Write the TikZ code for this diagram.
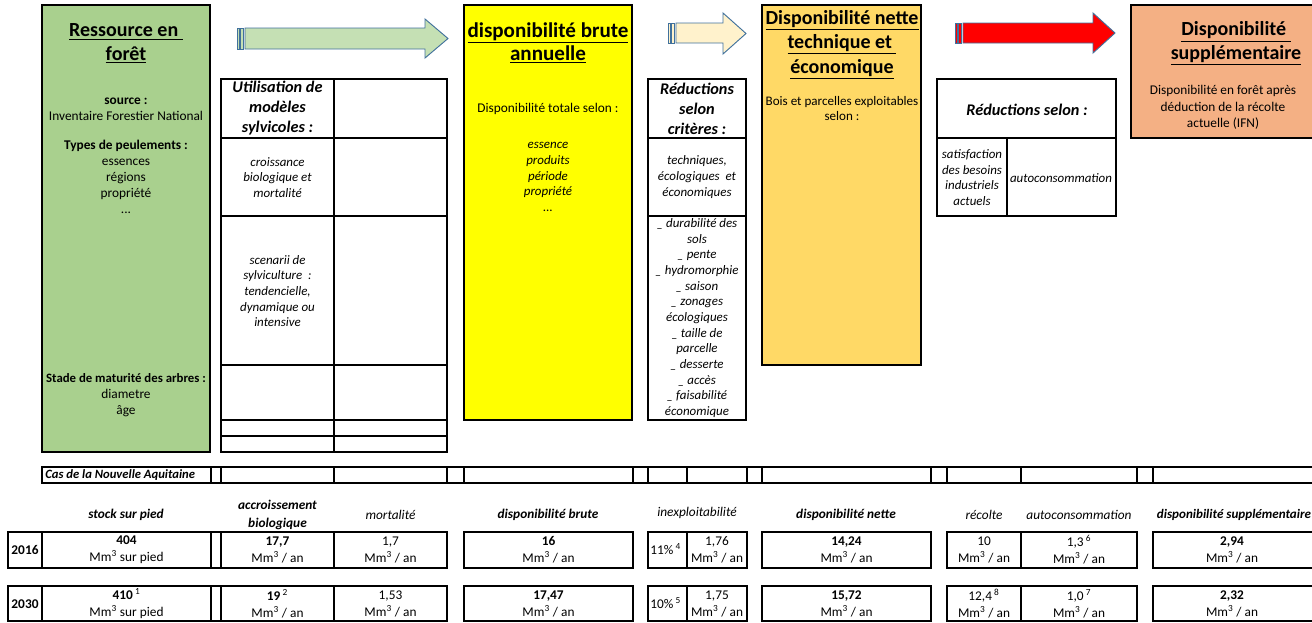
\documentclass[tikz,border=0pt]{standalone}
\usepackage{fontspec}
\setmainfont{Carlito}
\definecolor{vert}{HTML}{A9D08E}
\definecolor{jaune}{HTML}{FFFF00}
\definecolor{or}{HTML}{FFD966}
\definecolor{saumon}{HTML}{F4B084}
\definecolor{bordfleche}{HTML}{41719C}
\definecolor{fleche1}{HTML}{C5E0B4}
\definecolor{fleche2}{HTML}{FFF2CC}
\definecolor{fleche3}{HTML}{FF0000}
\newcommand{\mmc}{Mm\textsuperscript{3}}
\tikzset{
	cadre/.style = {draw, line width = 2.2pt},
	cellule/.style = {draw, line width = 0.8pt},
	fleche/.style = {draw = bordfleche, line width = 0.7pt, line join = miter},
	raie/.style = {draw = bordfleche, line width = 0.4pt},
	texte/.style = {font = \fontsize{10}{12}\selectfont, align = center, inner sep = 0pt},
	italique/.style = {font = \fontsize{9.7}{11.75}\selectfont\itshape, align = center, inner sep = 0pt},
	titre/.style = {font = \fontsize{15}{17.5}\selectfont\bfseries, align = center, inner sep = 0pt},
	entete/.style = {font = \fontsize{12.2}{15}\selectfont\bfseries\itshape, align = center, inner sep = 0pt},
	valeur/.style = {font = \fontsize{10}{12.75}\selectfont, align = center, inner sep = 0pt},
	colonne/.style = {font = \fontsize{10}{10.5}\selectfont\itshape, align = center, inner sep = 0pt}
}
\begin{document}
\begin{tikzpicture} [x = 0.75pt, y = -0.75pt]
	\useasboundingbox (0,0) rectangle (1312,622);
	\clip (0,0) rectangle (1312,622);
	% grands cadres
	\draw [cadre, fill = vert] (42,5) rectangle (210,452);
	\draw [cadre, fill = jaune] (464,5) rectangle (632,420);
	\draw [cadre, fill = or] (762,5) rectangle (921,365);
	\draw [cadre, fill = saumon] (1131,5) rectangle (1330,138);
	% fleches
	\draw [raie, fill = fleche1] (237,28) rectangle (239.5,49);
	\draw [raie, fill = fleche1] (240.5,28) rectangle (243.5,49);
	\draw [fleche, fill = fleche1] (245,28) -- (425,28) -- (425,19) -- (448,38.5) -- (425,58) -- (425,49) -- (245,49) -- cycle;
	\draw [raie, fill = fleche2] (668,23) rectangle (670.5,43);
	\draw [raie, fill = fleche2] (671.5,23) rectangle (674.5,43);
	\draw [fleche, fill = fleche2] (676,23) -- (723,23) -- (723,13) -- (746,33.5) -- (723,54) -- (723,43) -- (676,43) -- cycle;
	\draw [raie, fill = fleche3] (955,23) rectangle (957.5,43);
	\draw [raie, fill = fleche3] (958.5,23) rectangle (961.5,43);
	\draw [fleche, fill = fleche3] (963,23) -- (1093,23) -- (1093,13) -- (1115,33) -- (1093,53) -- (1093,43) -- (963,43) -- cycle;
	% tableaux du haut
	\draw [cellule] (221,79) rectangle (447,452);
	\foreach \y in {138,216,365,420,436}
		\draw [cellule] (221,\y) -- (447,\y);
	\draw [cellule] (334,79) -- (334,452);
	\draw [cellule] (648,79) rectangle (746,420);
	\foreach \y in {138,216}
		\draw [cellule] (648,\y) -- (746,\y);
	\draw [cellule] (937,79) rectangle (1116,216);
	\draw [cellule] (937,138) -- (1116,138);
	\draw [cellule] (1007,138) -- (1007,216);
	% ressource
	\node [titre] (ress) at (126,43.5) {\underline{Ressource en\ }\\\underline{forêt}};
	\node [texte] (source) at (126,109) {\textbf{source :}\\Inventaire Forestier National};
	\node [texte] (types) at (126,177) {\textbf{Types de peulements :}\\essences\\régions\\propriété\\...};
	\node [texte] (stade) at (126,395.5) {{\fontsize{9.6}{12}\selectfont\textbf{Stade de maturité des arbres :}}\\diametre\\âge};
	\node [entete] (modeles) at (277.5,108.5) {Utilisation de\\modèles\\sylvicoles :};
	\node [italique] (crois) at (277.5,177.5) {croissance\\biologique et\\mortalité};
	\node [italique] (scen) at (277.5,291) {scenarii de\\sylviculture~ :\\tendencielle,\\dynamique ou\\intensive};
	% disponibilite brute
	\node [titre, font = \fontsize{15.8}{17.5}\selectfont\bfseries] (brute) at (548,43) {\underline{disponibilité brute}\\\underline{annuelle}};
	\node [texte] (totale) at (548,109) {Disponibilité totale selon :};
	\node [italique] (essence) at (548,177) {essence\\produits\\période\\propriété\\...};
	\node [entete] (criteres) at (697,108.5) {Réductions\\selon\\critères :};
	\node [italique] (techn) at (697,177) {techniques,\\écologiques~ et\\économiques};
	\node [italique] (liste) at (697,318) {\_ durabilité des\\sols\\\_ pente\\\_ hydromorphie\\\_ saison\\\_ zonages\\écologiques\\\_ taille de\\parcelle\\\_ desserte\\\_ accès\\\_ faisabilité\\économique};
	% disponibilite nette
	\node [titre, font = \fontsize{15}{18.4}\selectfont\bfseries] (nette) at (842,44.5) {\underline{Disponibilité nette}\\\underline{technique et\ }\\\underline{économique}};
	\node [texte, font = \fontsize{9.8}{11.5}\selectfont] (bois) at (842,108.5) {Bois et parcelles exploitables\\selon :};
	\node [entete] (selon) at (1027,110) {Réductions selon :};
	\node [italique] (besoins) at (972,177.5) {satisfaction\\des besoins\\industriels\\actuels};
	\node [italique] (autoc) at (1061,178) {autoconsommation};
	% disponibilite supplementaire
	\node [titre] (suppl) at (1236,43.5) {\underline{Disponibilité\ }\\\underline{supplémentaire}};
	\node [texte, font = \fontsize{10}{12.4}\selectfont] (apres) at (1223,107.5) {Disponibilité en forêt après\\déduction de la récolte\\actuelle (IFN)};
	% cas de la Nouvelle Aquitaine
	\foreach \xa/\xb in {42/211,211/221,221/334,334/447,447/464,464/633,633/648,648/687,687/747,747/762,762/931,931/947,947/1021,1021/1137,1137/1153,1153/1330}
		\draw [cellule] (\xa,467) rectangle (\xb,483);
	\node [texte, anchor = west, font = \fontsize{9.5}{10}\selectfont\bfseries\itshape] (cas) at (45,475) {Cas de la Nouvelle Aquitaine};
	% en-tetes
	\node [colonne, font = \fontsize{10}{10.5}\selectfont\bfseries\itshape] (hstock) at (126,515) {stock sur pied};
	\node [colonne, font = \fontsize{10}{14}\selectfont\bfseries\itshape] (haccr) at (277.5,515) {accroissement\\biologique};
	\node [colonne] (hmort) at (390.5,515) {mortalité};
	\node [colonne, font = \fontsize{10}{10.5}\selectfont\bfseries\itshape] (hbrute) at (548,515) {disponibilité brute};
	\node [colonne] (hinex) at (697,513) {inexploitabilité};
	\node [colonne, font = \fontsize{10}{10.5}\selectfont\bfseries\itshape] (hnette) at (846,515) {disponibilité nette};
	\node [colonne] (hrec) at (984,515) {récolte};
	\node [colonne] (hauto) at (1079,515) {autoconsommation};
	\node [colonne, font = \fontsize{9.8}{10.5}\selectfont\bfseries\itshape] (hsupp) at (1234,515) {disponibilité supplémentaire};
	% lignes 2016 et 2030
	\foreach \ya/\yb in {532/568,586/621}
		\foreach \xa/\xb in {8/42,42/211,211/221,221/334,334/447,464/633,648/687,687/747,762/931,947/1021,1021/1137,1153/1330}
			\draw [cellule] (\xa,\ya) rectangle (\xb,\yb);
	% 2016
	\node [valeur] (a16) at (25,550) {\textbf{2016}};
	\node [valeur] (stock16) at (126.5,549.5) {\textbf{404}\\\mmc{} sur pied};
	\node [valeur] (accr16) at (277.5,549.5) {\textbf{17,7}\\\mmc{} / an};
	\node [valeur] (mort16) at (390.5,549.5) {1,7\\\mmc{} / an};
	\node [valeur] (brute16) at (548.5,549.5) {\textbf{16}\\\mmc{} / an};
	\node [valeur, anchor = west] (pinex16) at (650,549) {11\%\,\textsuperscript{4}};
	\node [valeur] (inex16) at (717,549.5) {1,76\\\mmc{} / an};
	\node [valeur] (nette16) at (846.5,549.5) {\textbf{14,24}\\\mmc{} / an};
	\node [valeur] (rec16) at (984,549.5) {10\\\mmc{} / an};
	\node [valeur] (auto16) at (1079,549.5) {1,3\,\textsuperscript{6}\\\mmc{} / an};
	\node [valeur] (supp16) at (1232,549.5) {\textbf{2,94}\\\mmc{} / an};
	% 2030
	\node [valeur] (a30) at (25,604) {\textbf{2030}};
	\node [valeur] (stock30) at (126.5,603.5) {\textbf{410}\,\textsuperscript{1}\\\mmc{} sur pied};
	\node [valeur] (accr30) at (277.5,603.5) {\textbf{19}\,\textsuperscript{2}\\\mmc{} / an};
	\node [valeur] (mort30) at (390.5,603.5) {1,53\\\mmc{} / an};
	\node [valeur] (brute30) at (548.5,603.5) {\textbf{17,47}\\\mmc{} / an};
	\node [valeur, anchor = west] (pinex30) at (650,603) {10\%\,\textsuperscript{5}};
	\node [valeur] (inex30) at (717,603.5) {1,75\\\mmc{} / an};
	\node [valeur] (nette30) at (846.5,603.5) {\textbf{15,72}\\\mmc{} / an};
	\node [valeur] (rec30) at (984,603.5) {12,4\,\textsuperscript{8}\\\mmc{} / an};
	\node [valeur] (auto30) at (1079,603.5) {1,0\,\textsuperscript{7}\\\mmc{} / an};
	\node [valeur] (supp30) at (1232,603.5) {\textbf{2,32}\\\mmc{} / an};
\end{tikzpicture}
\end{document}
